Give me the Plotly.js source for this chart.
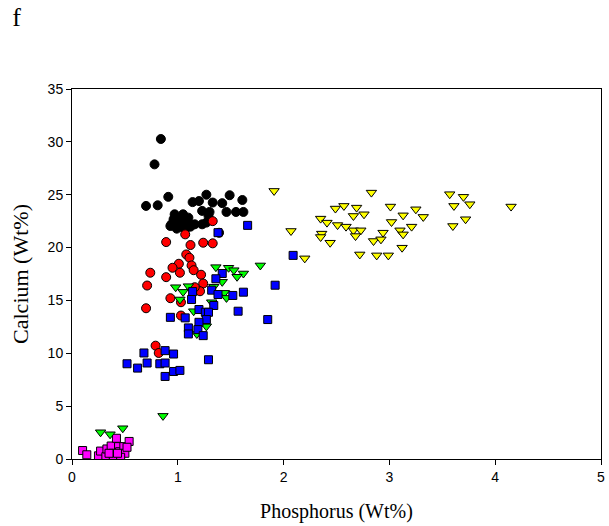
<!DOCTYPE html>
<html><head><meta charset="utf-8">
<script src="https://cdn.plot.ly/plotly-3.0.1.min.js"></script>
<style>body{margin:0;background:#fff}#plot{width:609px;height:526px}</style>
</head><body><div id="plot"></div>
<script>
var blackX = [0.84,0.78,0.70,0.81,0.91,1.14,1.20,1.27,1.33,1.42,1.49,1.61,1.23,1.30,1.46,1.55,1.62,0.97,1.05,0.96,1.02,1.10,0.94,1.01,1.09,1.16,1.23,0.99,1.05,1.12,1.29,1.39,0.93,1.07,1.27];
var blackY = [30.27,27.87,23.94,24.0,24.8,24.3,24.4,25.0,24.26,24.2,24.95,24.5,23.47,23.37,23.37,23.37,23.37,23.15,23.15,22.68,22.68,22.83,22.2,22.2,22.36,22.2,22.2,21.79,21.9,21.98,23.0,21.4,22.04,21.73,22.36];
var redX = [0.89,1.12,1.24,1.33,1.33,1.07,1.08,1.11,1.01,0.95,1.02,1.13,1.15,0.74,0.89,1.22,1.24,0.71,1.21,1.16,0.93,1.03,0.70,1.03,0.79,0.82];
var redY = [20.52,20.24,20.46,20.4,22.5,21.25,19.35,19.04,18.47,18.09,17.62,18.31,17.86,17.62,17.2,17.43,16.6,16.41,15.87,16.25,15.21,14.83,14.26,13.57,10.72,10.03];
var blueX = [1.38,1.66,1.42,1.36,1.14,1.13,1.32,1.38,1.52,1.62,1.92,1.34,1.20,1.26,1.29,1.57,1.27,1.07,0.93,1.85,1.20,1.10,1.19,1.10,1.24,1.29,0.88,0.68,0.96,0.52,0.71,0.62,0.83,0.88,0.96,1.02,0.88,2.09];
var blueY = [21.41,22.1,17.55,17.05,15.84,15.09,15.97,15.56,15.47,15.78,16.44,14.52,14.14,13.88,13.88,13.98,13.19,13.35,13.4,13.19,12.93,12.4,12.24,11.83,11.67,9.39,10.25,10.03,9.93,9.01,9.08,8.6,9.01,9.08,8.28,8.38,7.81,19.26];
var greenX = [1.78,1.36,1.48,1.53,1.62,1.56,1.42,0.98,1.10,1.05,1.02,1.44,1.46,1.32,1.15,1.27,1.18,1.34,0.86,0.27,0.36,0.48];
var greenY = [18.31,18.15,18.09,17.86,17.55,17.24,16.76,16.25,16.35,15.81,15.09,15.72,15.24,14.83,13.98,12.55,11.83,16.3,4.08,2.53,2.34,2.91];
var yellowX = [1.91,2.07,2.20,2.35,2.41,2.36,2.35,2.44,2.49,2.57,2.51,2.59,2.69,2.66,2.76,2.66,2.73,2.68,2.83,2.72,2.85,2.94,2.92,2.88,2.99,3.01,3.02,3.13,3.10,3.13,3.12,3.21,3.25,3.32,3.57,3.70,3.61,3.76,3.72,3.60,4.15];
var yellowY = [25.36,21.57,18.98,22.74,22.36,21.32,21.0,20.46,23.69,23.94,22.13,21.98,23.78,22.99,23.15,21.63,21.63,21.09,25.2,19.35,20.62,21.41,20.78,19.26,19.26,23.88,22.42,23.05,21.63,21.25,19.99,21.98,23.62,22.9,25.05,24.8,23.94,24.1,22.68,22.04,23.88];
var magentaX = [0.10,0.14,0.25,0.27,0.32,0.33,0.37,0.39,0.42,0.44,0.45,0.39,0.49,0.50,0.54,0.46,0.35,0.52,0.43];
var magentaY = [0.8,0.4,0.3,0.75,0.22,0.95,1.23,0.54,1.96,1.17,0.69,0.07,1.17,0.54,1.66,0.16,0.54,1.11,0.54];

var ln = {color:'#000', width:1};
function tr(x,y,sym,col,sz){return {x:x,y:y,type:'scatter',mode:'markers',marker:{symbol:sym,color:col,size:sz,line:ln},hoverinfo:'none'};}
var data = [
  tr(magentaX,magentaY,'square','#ff00ff',8),
  tr(blackX,blackY,'circle','#000000',9),
  tr(redX,redY,'circle','#ff0000',9),
  tr(greenX,greenY,'triangle-down','#00ff00',9),
  tr(blueX,blueY,'square','#0000ff',8),
  tr(yellowX,yellowY,'triangle-down','#ffff00',9)
];
var serif = 'Liberation Serif, Times New Roman, serif';
var axFont = {family:'Liberation Sans, Arial, sans-serif', size:14, color:'#000'};
var layout = {
  width:609, height:526,
  margin:{l:72,r:8,t:89,b:67},
  paper_bgcolor:'#fff', plot_bgcolor:'#fff',
  showlegend:false,
  title:{text:'f', x:0.02, xanchor:'left', y:0.985, yanchor:'top', yref:'container', font:{family:serif, size:26, color:'#000'}},
  xaxis:{range:[0,5], tickvals:[0,1,2,3,4,5], ticks:'outside', ticklen:5, tickcolor:'#000', showgrid:false, zeroline:false, showline:true, linecolor:'#000', linewidth:1, mirror:true, tickfont:axFont,
    title:{text:'Phosphorus (Wt%)', standoff:20, font:{family:serif, size:20, color:'#000'}}},
  yaxis:{range:[0,35], tickvals:[0,5,10,15,20,25,30,35], ticks:'outside', ticklen:5, tickcolor:'#000', showgrid:false, zeroline:false, showline:true, linecolor:'#000', linewidth:1, mirror:true, tickfont:axFont,
    title:{text:'Calcium (Wt%)', standoff:12, font:{family:serif, size:22, color:'#000'}}}
};
Plotly.newPlot('plot', data, layout, {staticPlot:true, displayModeBar:false});
</script></body></html>
